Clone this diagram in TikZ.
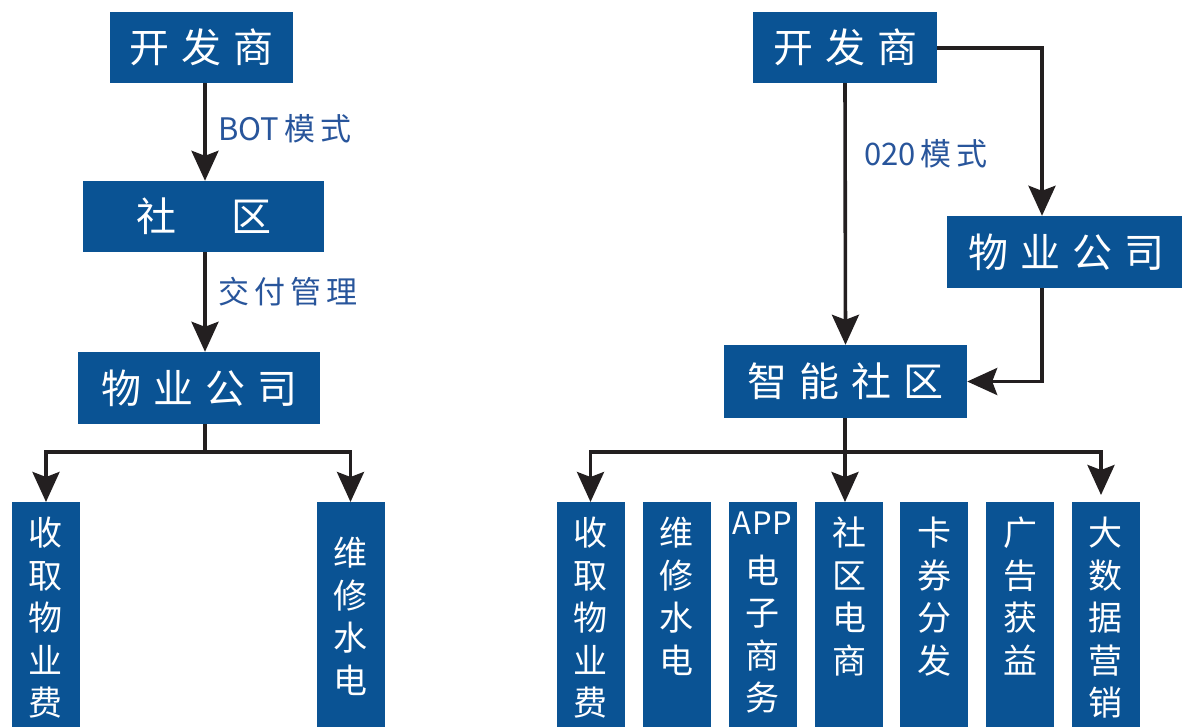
\documentclass[tikz,border=0pt]{standalone}
\usepackage{fontspec}
\newfontfamily\cjk{Noto Sans CJK SC}
\usetikzlibrary{arrows.meta}
\definecolor{boxblue}{RGB}{10,83,148}
\definecolor{lblblue}{RGB}{40,85,155}
\definecolor{linec}{RGB}{35,31,32}
\newcommand\gpx{\hspace{12pt}}
\newcommand\lgx{\hspace{5pt}}
\newcommand\vcol[2]{\parbox[t][232pt][t]{68pt}{\centering\cjk\fontsize{34}{42.5}\selectfont\vspace*{#1}#2}}
\tikzset{
  hbox/.style={rectangle, fill=boxblue, text=white, inner sep=0pt,
    font=\cjk\fontsize{40}{40}\selectfont},
  vbox/.style={rectangle, fill=boxblue, text=white, inner sep=0pt, anchor=north},
  conn/.style={draw=linec, line width=3.6pt},
  arr/.style={conn, -{Stealth[length=30pt,width=27pt,inset=5pt]}},
  lbl/.style={text=lblblue, inner sep=0pt, anchor=west,
    font=\cjk\fontsize{31}{31}\selectfont},
}
\begin{document}
\begin{tikzpicture}[x=1pt,y=-1pt]
\useasboundingbox (0,0) rectangle (1182,726);
\clip (0,0) rectangle (1182,726);

% ---------- left diagram ----------
\node[hbox, minimum width=183pt, minimum height=71pt] (L1) at (201.5,47.5) {开\gpx 发\gpx 商};
\node[hbox, minimum width=241pt, minimum height=71pt] (L2) at (203.5,216.5) {社\hspace{55pt}区};
\node[hbox, minimum width=242pt, minimum height=72pt] (L3) at (199,388) {物\gpx 业\gpx 公\gpx 司};
\node[vbox] (L4) at (46,502) {\vcol{15pt}{收\\取\\物\\业\\费}};
\node[vbox] (L5) at (350.5,502) {\vcol{35pt}{维\\修\\水\\电}};

\coordinate (lbus) at (205,452);
\draw[arr] (L1.south -| lbus) -- (L2.north -| lbus);
\draw[arr] (L2.south -| lbus) -- (L3.north -| lbus);
\draw[conn] (L3.south -| lbus) -- (lbus);
\draw[arr] (lbus) -| (L4.north);
\draw[arr] (lbus) -| (L5.north);

\node[lbl] (t1) at (218,129) {BOT\lgx 模\lgx 式};
\node[lbl] (t2) at (218,292) {交\lgx 付\lgx 管\lgx 理};

% ---------- right diagram ----------
\node[hbox, minimum width=184pt, minimum height=71pt] (R1) at (845,47.5) {开\gpx 发\gpx 商};
\node[hbox, minimum width=238pt, minimum height=72pt] (R2) at (1066,252) {物\gpx 业\gpx 公\gpx 司};
\node[hbox, minimum width=243pt, minimum height=73pt] (R3) at (845.5,381.5) {智\gpx 能\gpx 社\gpx 区};

\node[vbox] (B1) at (590.5,502) {\vcol{15pt}{收\\取\\物\\业\\费}};
\node[vbox] (B2) at (676.5,502) {\vcol{15pt}{维\\修\\水\\电}};
\node[vbox] (B3) at (762.5,502) {\vcol{10pt}{\raisebox{6pt}{\fontsize{31}{31}\selectfont A\hspace{1pt}P\hspace{1pt}P}\\电\\子\\商\\务}};
\node[vbox] (B4) at (849,502) {\vcol{15pt}{社\\区\\电\\商}};
\node[vbox] (B5) at (934,502) {\vcol{15pt}{卡\\券\\分\\发}};
\node[vbox] (B6) at (1020,502) {\vcol{15pt}{广\\告\\获\\益}};
\node[vbox] (B7) at (1105.5,502) {\vcol{15pt}{大\\数\\据\\营\\销}};

\coordinate (rx) at (1042,48);
\draw[arr] (R1.south) -- (R3.north);
\draw[arr] (R1.east |- rx) -| (R2.north -| rx);
\draw[arr] (R2.south -| rx) |- (R3.east);

\coordinate (rbus) at (845,452);
\draw[arr] (R3.south -| rbus) -- (B4.north -| rbus);
\draw[arr] (rbus) -| (B1.north);
\draw[arr, shorten >=7pt] (rbus) -| ([xshift=-4.5pt]B7.north);

\node[lbl] (t3) at (864,154) {020\lgx 模\lgx 式};
\end{tikzpicture}
\end{document}
